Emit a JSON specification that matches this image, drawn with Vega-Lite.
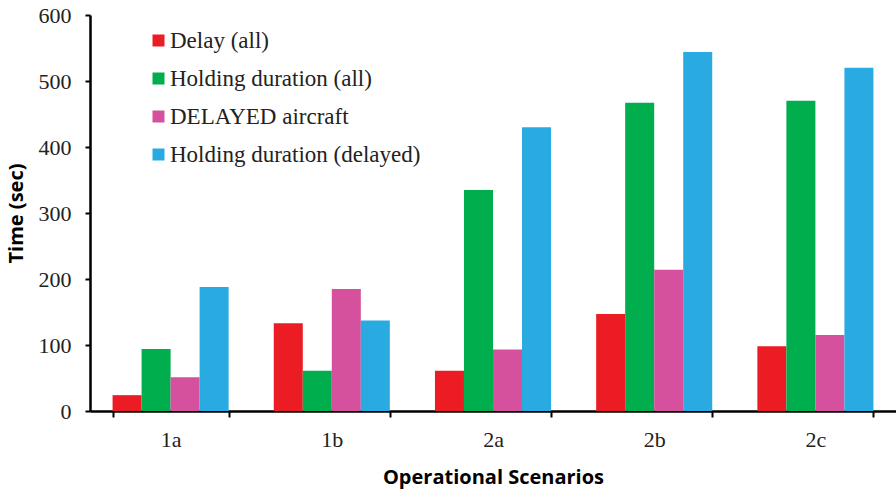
{
  "$schema": "https://vega.github.io/schema/vega-lite/v6.json",
  "width": 806,
  "height": 396,
  "autosize": {"type": "none"},
  "padding": {"left": 90, "top": 15, "right": 0, "bottom": 83},
  "background": "white",
  "config": {"view": {"stroke": null}},
  "data": {
    "values": [
      {"scenario": "1a", "series": "Delay (all)", "time": 24},
      {"scenario": "1a", "series": "Holding duration (all)", "time": 94},
      {"scenario": "1a", "series": "DELAYED aircraft", "time": 51},
      {"scenario": "1a", "series": "Holding duration (delayed)", "time": 188},
      {"scenario": "1b", "series": "Delay (all)", "time": 133},
      {"scenario": "1b", "series": "Holding duration (all)", "time": 61},
      {"scenario": "1b", "series": "DELAYED aircraft", "time": 185},
      {"scenario": "1b", "series": "Holding duration (delayed)", "time": 137},
      {"scenario": "2a", "series": "Delay (all)", "time": 61},
      {"scenario": "2a", "series": "Holding duration (all)", "time": 335},
      {"scenario": "2a", "series": "DELAYED aircraft", "time": 93},
      {"scenario": "2a", "series": "Holding duration (delayed)", "time": 430},
      {"scenario": "2b", "series": "Delay (all)", "time": 147},
      {"scenario": "2b", "series": "Holding duration (all)", "time": 467},
      {"scenario": "2b", "series": "DELAYED aircraft", "time": 214},
      {"scenario": "2b", "series": "Holding duration (delayed)", "time": 544},
      {"scenario": "2c", "series": "Delay (all)", "time": 98},
      {"scenario": "2c", "series": "Holding duration (all)", "time": 470},
      {"scenario": "2c", "series": "DELAYED aircraft", "time": 115},
      {"scenario": "2c", "series": "Holding duration (delayed)", "time": 520}
    ]
  },
  "mark": {"type": "bar"},
  "encoding": {
    "x": {
      "field": "scenario",
      "type": "nominal",
      "scale": {"paddingInner": 0.28, "paddingOuter": 0.14},
      "axis": {
        "title": "Operational Scenarios",
        "titleFont": "Open Sans",
        "titleFontWeight": "bold",
        "titleFontSize": 20,
        "titleColor": "black",
        "titlePadding": 17,
        "labelAngle": 0,
        "labelFont": "Liberation Serif",
        "labelFontSize": 22,
        "labelColor": "#222",
        "labelPadding": 12,
        "tickBand": "extent",
        "tickSize": 6,
        "tickColor": "black",
        "tickWidth": 2,
        "domainColor": "black",
        "domainWidth": 2.5
      }
    },
    "xOffset": {"field": "series", "type": "nominal", "sort": ["Delay (all)", "Holding duration (all)", "DELAYED aircraft", "Holding duration (delayed)"]},
    "y": {
      "field": "time",
      "type": "quantitative",
      "scale": {"domain": [0, 600], "nice": false},
      "axis": {
        "title": "Time (sec)",
        "titleFont": "Open Sans",
        "titleFontWeight": "bold",
        "titleFontSize": 20,
        "titleColor": "black",
        "titlePadding": 12,
        "values": [0, 100, 200, 300, 400, 500, 600],
        "labelFont": "Liberation Serif",
        "labelFontSize": 22,
        "labelColor": "#222",
        "labelPadding": 14,
        "grid": false,
        "tickSize": 5,
        "tickColor": "black",
        "tickWidth": 2,
        "domainColor": "black",
        "domainWidth": 2.5
      }
    },
    "color": {
      "field": "series",
      "type": "nominal",
      "sort": ["Delay (all)", "Holding duration (all)", "DELAYED aircraft", "Holding duration (delayed)"],
      "scale": {
        "domain": ["Delay (all)", "Holding duration (all)", "DELAYED aircraft", "Holding duration (delayed)"],
        "range": ["#EC1C24", "#00AE4D", "#D5519D", "#29AAE1"]
      },
      "legend": {
        "title": null,
        "orient": "none",
        "legendX": 57,
        "legendY": 14,
        "padding": 0,
        "symbolType": "square",
        "symbolSize": 144,
        "symbolStrokeWidth": 0,
        "labelFont": "Liberation Serif",
        "labelFontSize": 23,
        "labelLimit": 0,
        "labelColor": "#222",
        "labelOffset": 0,
        "rowPadding": 14
      }
    }
  }
}
